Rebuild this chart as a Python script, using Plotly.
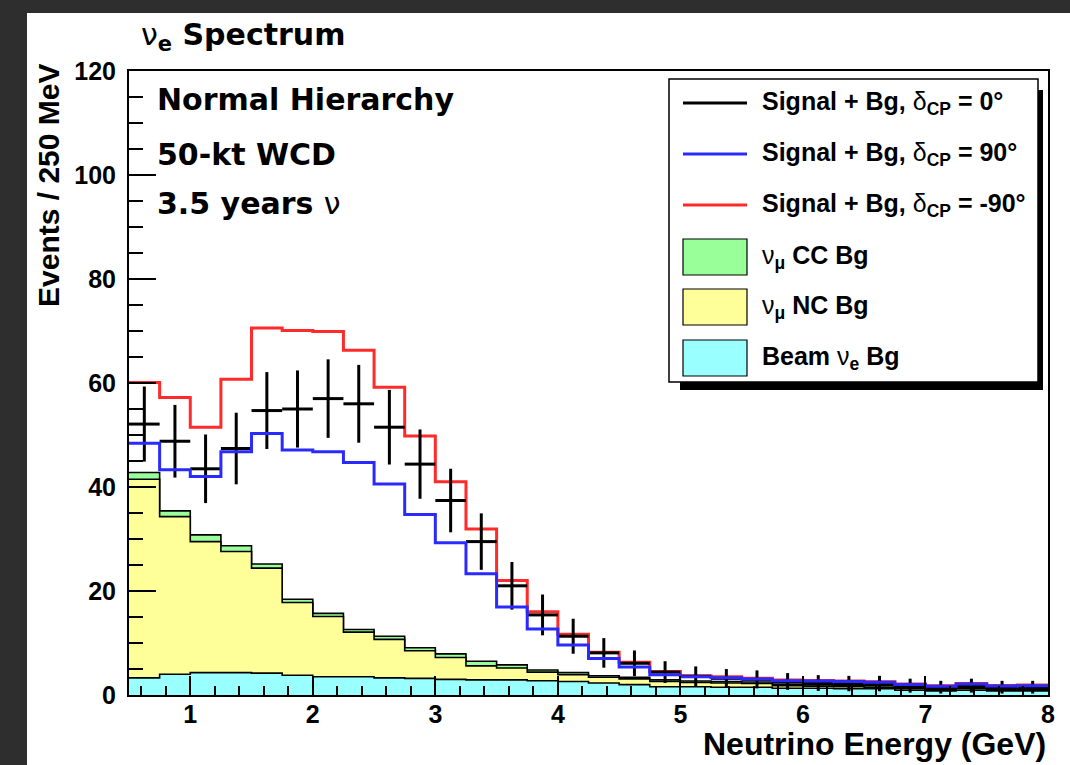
import numpy as np
import plotly.graph_objects as go

# Energy binning: 250 MeV bins from 0.5 to 8 GeV
edges = np.round(np.arange(0.5, 8.0001, 0.25), 3)
centers = (edges[:-1] + edges[1:]) / 2

# Background components (events / 250 MeV)
beam_nue_bg = [3.3, 4.0, 4.3, 4.3, 4.2, 3.8, 3.5, 3.5, 3.3, 3.2, 3.0, 2.9, 2.9, 2.75, 2.6,
               2.3, 2.0, 1.6, 1.6, 1.5, 1.5, 1.3, 1.3, 1.2, 1.2, 0.9, 0.8, 0.9, 0.8, 0.8]
numu_nc_bg = [38.2, 30.3, 25.2, 23.3, 20.2, 14.0, 11.6, 8.6, 7.4, 5.3, 4.2, 2.7, 2.3, 1.65, 1.3,
              1.1, 1.1, 1.0, 0.8, 0.8, 0.7, 0.5, 0.4, 0.4, 0.3, 0.3, 0.2, 0.3, 0.2, 0.2]
numu_cc_bg = [1.3, 1.1, 1.3, 1.1, 0.8, 0.6, 0.6, 0.5, 0.6, 0.6, 0.7, 0.9, 0.6, 0.4, 0.4,
              0.3, 0.3, 0.3, 0.3, 0.3, 0.3, 0.3, 0.3, 0.3, 0.3, 0.2, 0.2, 0.2, 0.2, 0.2]

# Signal + background for three values of delta_CP
sig_bg_dcp0 = [52.1, 48.8, 43.5, 47.4, 54.7, 55.0, 57.0, 56.0, 51.5, 44.4, 37.4, 29.5, 21.0, 15.4, 11.3,
               8.1, 6.1, 4.4, 3.6, 3.2, 3.0, 2.6, 2.3, 2.2, 2.2, 1.8, 1.5, 1.8, 1.5, 1.5]
sig_bg_dcp90 = [48.4, 43.3, 42.0, 46.8, 50.3, 47.1, 46.8, 44.7, 40.6, 34.7, 29.3, 23.3, 16.9, 12.7, 9.6,
                7.0, 5.4, 3.9, 3.5, 3.3, 3.1, 2.75, 2.7, 2.6, 2.45, 2.0, 1.7, 2.1, 1.75, 1.8]
sig_bg_dcpm90 = [60.1, 57.2, 51.5, 60.7, 70.6, 70.1, 69.9, 66.3, 59.2, 49.8, 41.0, 31.9, 22.0, 16.0, 11.7,
                 8.2, 6.3, 4.5, 3.7, 3.5, 3.2, 2.9, 2.8, 2.7, 2.55, 2.1, 1.8, 2.2, 1.85, 1.9]

W, H = 1070, 765
ML, MR, MT, MB = 129, 22, 71, 70
PW, PH = W - ML - MR, H - MT - MB

GREEN, YELLOW, CYAN = "#99ff99", "#ffff99", "#99ffff"
RED, BLUE = "#ff2a2a", "#2a2aff"
AXFONT = "Liberation Sans"
TXFONT = "DejaVu Sans"


def px(x):
    return (x - ML) / PW


def py(y):
    return (H - MB - y) / PH


def step(vals):
    vals = list(vals)
    return list(edges), vals + [vals[-1]]


beam = np.array(beam_nue_bg)
nc_top = beam + np.array(numu_nc_bg)
cc_top = nc_top + np.array(numu_cc_bg)

fig = go.Figure()

# Stacked backgrounds: drawn from the total downwards so each layer overlays the one above
for top, color in [(cc_top, GREEN), (nc_top, YELLOW), (beam, CYAN)]:
    sx, sy = step(top)
    fig.add_trace(go.Scatter(x=sx, y=sy, mode="lines", line=dict(shape="hv", color="black", width=1.6),
                             fill="tozeroy", fillcolor=color, hoverinfo="skip"))

sx, sy = step(sig_bg_dcpm90)
fig.add_trace(go.Scatter(x=sx, y=sy, mode="lines", line=dict(shape="hv", color=RED, width=3)))

d0 = np.array(sig_bg_dcp0)
fig.add_trace(go.Scatter(
    x=centers, y=d0, mode="markers", marker=dict(size=1, color="black"),
    error_x=dict(type="constant", value=0.125, width=0, thickness=3, color="black"),
    error_y=dict(type="data", array=np.sqrt(d0), width=0, thickness=3, color="black"),
))

sx, sy = step(sig_bg_dcp90)
fig.add_trace(go.Scatter(x=sx, y=sy, mode="lines", line=dict(shape="hv", color=BLUE, width=3)))

shapes = [
    # white canvas over the dark surround
    dict(type="rect", xref="paper", yref="paper", x0=px(27), x1=px(W + 5), y0=py(13), y1=py(H + 5),
         fillcolor="white", line=dict(width=0), layer="below"),
    # legend shadow and box
    dict(type="rect", xref="paper", yref="paper", x0=px(680), x1=px(1043), y0=py(90), y1=py(390),
         fillcolor="black", line=dict(width=0)),
    dict(type="rect", xref="paper", yref="paper", x0=px(669), x1=px(1038), y0=py(79), y1=py(382),
         fillcolor="white", line=dict(color="black", width=1.5)),
]

legend_rows = [
    ("line", "black", "Signal + Bg, <span style='font-weight:normal'>δ</span><sub>CP</sub> = 0°"),
    ("line", BLUE, "Signal + Bg, <span style='font-weight:normal'>δ</span><sub>CP</sub> = 90°"),
    ("line", RED, "Signal + Bg, <span style='font-weight:normal'>δ</span><sub>CP</sub> = -90°"),
    ("box", GREEN, "<span style='font-weight:normal'>ν</span><sub>μ</sub> CC Bg"),
    ("box", YELLOW, "<span style='font-weight:normal'>ν</span><sub>μ</sub> NC Bg"),
    ("box", CYAN, "Beam <span style='font-weight:normal'>ν</span><sub>e</sub> Bg"),
]
row_y = [103, 154, 205, 257, 307, 358]

annotations = []
for (kind, color, label), yy in zip(legend_rows, row_y):
    if kind == "line":
        shapes.append(dict(type="line", xref="paper", yref="paper", x0=px(683), x1=px(747),
                           y0=py(yy), y1=py(yy), line=dict(color=color, width=3)))
    else:
        shapes.append(dict(type="rect", xref="paper", yref="paper", x0=px(683), x1=px(747),
                           y0=py(yy - 18), y1=py(yy + 18), fillcolor=color,
                           line=dict(color="black", width=1.2)))
    annotations.append(dict(xref="paper", yref="paper", x=px(760), y=py(yy), xanchor="left",
                            yanchor="middle", showarrow=False, text=label,
                            font=dict(family=AXFONT, size=25, color="black", weight="bold")))

# Title and run description
annotations.append(dict(xref="paper", yref="paper", x=px(139), y=py(37), xanchor="left", yanchor="middle",
                        showarrow=False, text="<span style='font-weight:normal'>ν</span><sub>e</sub> Spectrum",
                        font=dict(family=TXFONT, size=30, color="black", weight="bold")))
for txt, yy in [("Normal Hierarchy", 100), ("50-kt WCD", 154),
                ("3.5 years <span style='font-weight:normal'>ν</span>", 203)]:
    annotations.append(dict(xref="paper", yref="paper", x=px(155), y=py(yy), xanchor="left", yanchor="middle",
                            showarrow=False, text=txt,
                            font=dict(family=TXFONT, size=30, color="black", weight="bold")))

# Axis titles
annotations.append(dict(xref="paper", yref="paper", x=px(1048), y=py(744), xanchor="right", yanchor="middle",
                        showarrow=False, text="Neutrino Energy (GeV)",
                        font=dict(family=AXFONT, size=32, color="black", weight="bold")))
annotations.append(dict(xref="paper", yref="paper", x=px(48), y=py(186), xanchor="center", yanchor="middle",
                        showarrow=False, text="Events / 250 MeV", textangle=-90,
                        font=dict(family=AXFONT, size=30, color="black", weight="bold")))

tickfont = dict(family=AXFONT, size=25, color="black", weight="bold")
fig.update_layout(
    width=W, height=H,
    margin=dict(l=ML, r=MR, t=MT, b=MB, pad=0),
    paper_bgcolor="#2e2e2e", plot_bgcolor="white",
    showlegend=False,
    shapes=shapes, annotations=annotations,
    xaxis=dict(range=[0.5, 8], tick0=0, dtick=1, ticks="inside", ticklen=19, tickwidth=2, tickcolor="black",
               minor=dict(tick0=0, dtick=0.2, ticks="inside", ticklen=9, tickwidth=2, tickcolor="black"),
               showline=True, linewidth=2, linecolor="black", mirror=True, showgrid=False, zeroline=False,
               tickfont=tickfont, ticklabelstandoff=-4),
    yaxis=dict(range=[0, 120], tick0=0, dtick=20, ticks="inside", ticklen=27, tickwidth=2, tickcolor="black",
               minor=dict(tick0=0, dtick=5, ticks="inside", ticklen=14, tickwidth=2, tickcolor="black"),
               showline=True, linewidth=2, linecolor="black", mirror=True, showgrid=False, zeroline=False,
               tickfont=tickfont, ticklabelstandoff=6),
)

fig.write_html("out.html")
